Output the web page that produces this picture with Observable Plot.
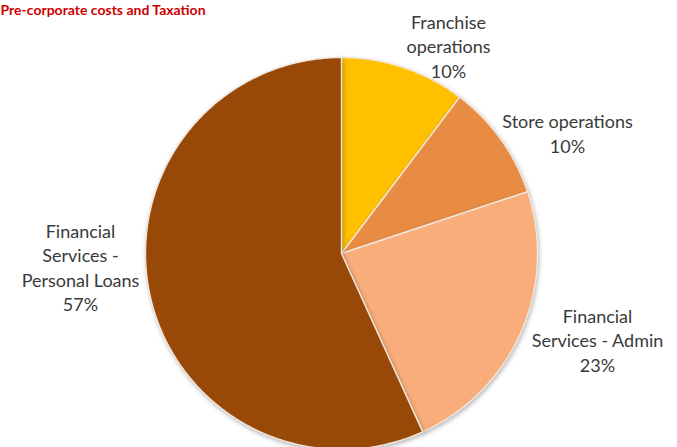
<!DOCTYPE html>
<html>
<head>
<meta charset="utf-8">
<script src="https://cdn.jsdelivr.net/npm/d3@7"></script>
<script src="https://cdn.jsdelivr.net/npm/@observablehq/plot@0.6"></script>
<style>
  html, body { margin: 0; padding: 0; background: #fff; }
  #chart svg g[aria-label="line"] { filter: drop-shadow(1.5px 2px 2px rgba(0,0,0,0.28)); }
</style>
</head>
<body>
<div id="chart"></div>
<script>
// ---- data ----
const title = "Pre-corporate costs and Taxation";
const categories = ["Franchise operations", "Store operations", "Financial Services - Admin", "Financial Services - Personal Loans"];
const labelLines = [["Franchise", "operations"], ["Store operations"], ["Financial", "Services - Admin"], ["Financial", "Services -", "Personal Loans"]];
const values = [10.3, 9.6, 23.3, 56.8];
const colors = ["#FFC000", "#E88C43", "#F8AD7B", "#984807"];

// ---- layout (not data) ----
const W = 677, H = 447;
const R = 196;                 // pie radius in px-units
const cx = 341, cy = 253;      // pie centre in px
// label centre offsets relative to pie centre (x right, y up), Excel "best fit" placement
const labelOffsets = [[107, 208], [226, 121], [256, -86], [-261, -13]];

const total = d3.sum(values);
const pie = d3.pie().sort(null).startAngle(0).endAngle(2 * Math.PI)(values);

const slices = pie.map((p, i) => {
  const pts = [{x: 0, y: 0}];
  const n = Math.max(8, Math.ceil((p.endAngle - p.startAngle) / 0.01));
  for (let k = 0; k <= n; k++) {
    const a = p.startAngle + (p.endAngle - p.startAngle) * k / n;
    pts.push({x: R * Math.sin(a), y: R * Math.cos(a)});
  }
  pts.push({x: 0, y: 0});
  return {pts, color: colors[i]};
});

const labels = categories.map((c, i) => ({
  x: labelOffsets[i][0],
  y: labelOffsets[i][1],
  text: labelLines[i].join("\n") + "\n" + Math.round(values[i] / total * 100) + "%"
}));

const chart = Plot.plot({
  width: W,
  height: H,
  margin: 0,
  x: {domain: [-cx, W - cx], axis: null},
  y: {domain: [-(H - cy), cy], axis: null},
  style: {background: "#fff"},
  marks: [
    ...slices.map(s => Plot.line(s.pts, {x: "x", y: "y", fill: s.color, stroke: "#f3e6da", strokeWidth: 1.4, curve: "linear"})),
    Plot.text(labels, {x: "x", y: "y", text: "text", fontSize: 18, lineHeight: 1.36, fill: "#3a3a3a", fontFamily: "Lato, 'Open Sans', sans-serif"}),
    Plot.text([title], {frameAnchor: "top-left", dx: 0, dy: 10, text: d => d, fontSize: 14, fontWeight: "bold", fill: "#CC0000", fontFamily: "Lato, 'Open Sans', sans-serif", textAnchor: "start", lineAnchor: "middle"})
  ]
});
document.getElementById("chart").appendChild(chart);
</script>
</body>
</html>
